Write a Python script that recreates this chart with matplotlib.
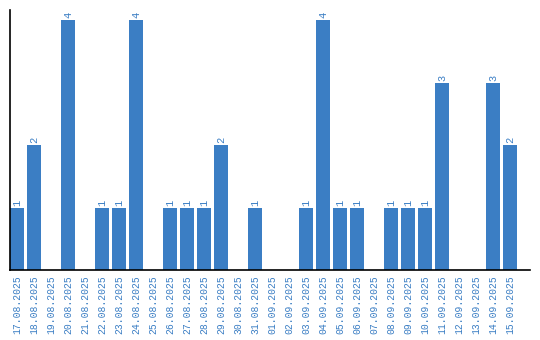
import matplotlib as mpl
mpl.use('Agg')
import matplotlib.pyplot as plt
import numpy as np

dates = ["17.08.2025", "18.08.2025", "19.08.2025", "20.08.2025", "21.08.2025",
         "22.08.2025", "23.08.2025", "24.08.2025", "25.08.2025", "26.08.2025",
         "27.08.2025", "28.08.2025", "29.08.2025", "30.08.2025", "31.08.2025",
         "01.09.2025", "02.09.2025", "03.09.2025", "04.09.2025", "05.09.2025",
         "06.09.2025", "07.09.2025", "08.09.2025", "09.09.2025", "10.09.2025",
         "11.09.2025", "12.09.2025", "13.09.2025", "14.09.2025", "15.09.2025"]
counts = [1, 2, 0, 4, 0, 1, 1, 4, 0, 1,
          1, 1, 2, 0, 1, 0, 0, 1, 4, 1,
          1, 0, 1, 1, 1, 3, 0, 0, 3, 2]

color = "#3b7ec4"
font = "Liberation Mono"

fig = plt.figure(figsize=(5.4, 3.4), dpi=100)
ax = fig.add_axes([10 / 540, 70 / 340, 520 / 540, 260 / 340])

x = np.arange(len(dates))
bars = ax.bar(x, counts, width=0.82, color=color)

#value labels above non-empty bars
for xi, c in zip(x, counts):
    if c > 0:
        ax.text(xi, c + 0.03, str(c), rotation=90, ha="center", va="bottom",
                color=color, family=font, fontsize=7.5)

ax.set_xlim(-0.41, 30.18)
ax.set_ylim(0, 4.16)
ax.set_xticks(x)
ax.set_xticklabels(dates, rotation=90, color=color, family=font, fontsize=7)
ax.set_yticks([])
ax.tick_params(axis="x", length=0, pad=4)
for s in ["top", "right"]:
    ax.spines[s].set_visible(False)
ax.spines["left"].set_linewidth(1.2)
ax.spines["bottom"].set_linewidth(1.2)

fig.savefig("out.png", dpi=100)
